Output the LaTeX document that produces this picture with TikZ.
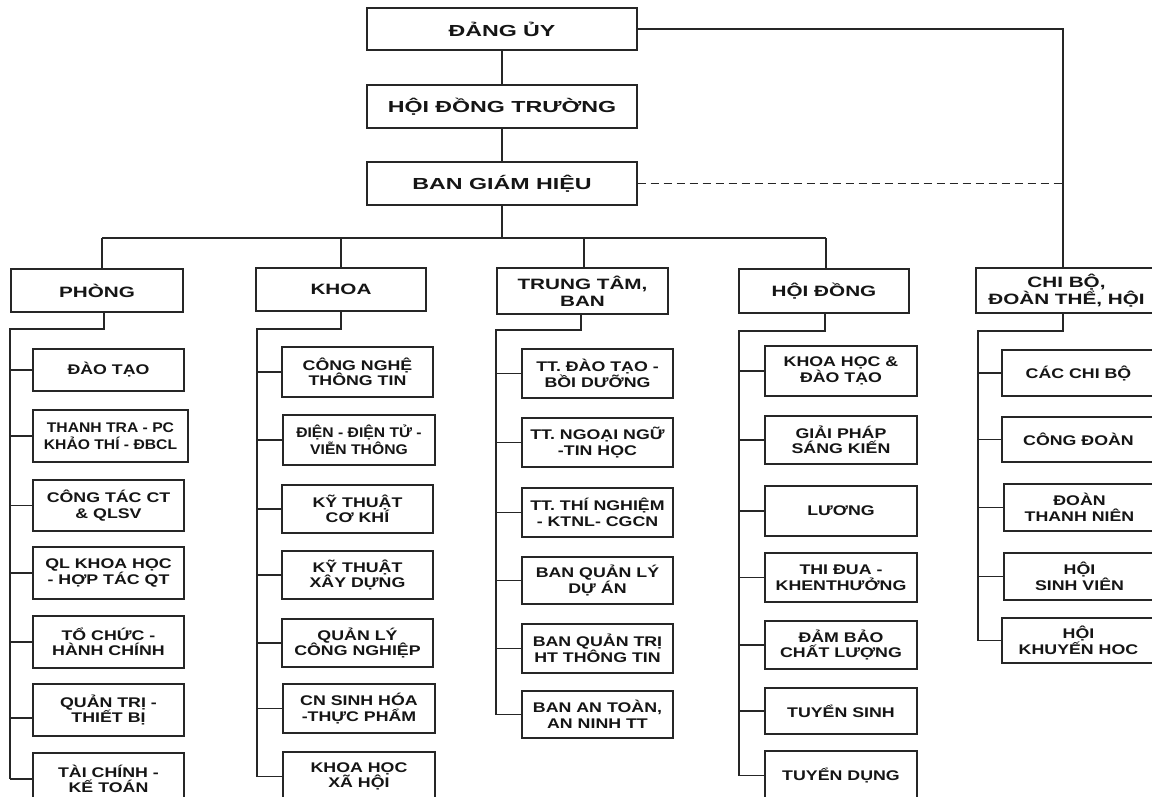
\documentclass[tikz,border=0pt]{standalone}
\usepackage{fontspec}
\setmainfont{Liberation Sans}
\newfontfamily\fTop{Liberation Sans}[FakeStretch=1.45]
\newfontfamily\fMid{Liberation Sans}[FakeStretch=1.38]
\newfontfamily\fSub{Liberation Sans}[FakeStretch=1.27]
\newfontfamily\fTight{Liberation Sans}[FakeStretch=1.12]
\definecolor{ln}{HTML}{262626}
\definecolor{tx}{HTML}{151515}
\newcommand\obox[7][]{\node[#1,minimum width={(#5-#3)*1pt},minimum height={(#6-#4)*1pt}] (#2) at ({(#3+#5)/2},{(#4+#6)/2}) {#7};}
\tikzset{
  base/.style={draw=ln,line width=1.2pt,inner sep=1pt,align=center,text=tx,fill=white},
  topbox/.style={base,font=\fTop\bfseries\fontsize{16}{18}\selectfont},
  midbox/.style={base,font=\fMid\bfseries\fontsize{15}{17.3}\selectfont},
  subbox/.style={base,font=\fSub\bfseries\fontsize{14}{15.5}\selectfont},
  tightbox/.style={base,font=\fTight\bfseries\fontsize{14}{17}\selectfont},
  conn/.style={draw=ln,line width=1.2pt},
}
\begin{document}
\begin{tikzpicture}[x=1pt,y=-1pt]
\useasboundingbox (0,0) rectangle (1152,796);
\fill[white] (0,0) rectangle (1152,796);
% top level
\obox[topbox]{dang}{367}{8}{637}{50}{ĐẢNG ỦY}
\obox[topbox]{hdt}{367}{85}{637}{128}{HỘI ĐỒNG TRƯỜNG}
\obox[topbox]{bgh}{367}{162}{637}{205}{BAN GIÁM HIỆU}
% level 2
\obox[midbox]{phong}{11}{269}{183}{312}{PHÒNG}
\obox[midbox]{khoa}{256}{268}{426}{311}{KHOA}
\obox[midbox]{ttb}{497}{268}{668}{314}{TRUNG TÂM,\\BAN}
\obox[midbox]{hd}{739}{269}{909}{313}{HỘI ĐỒNG}
\obox[midbox]{cb}{976}{268}{1157}{313}{CHI BỘ,\\ĐOÀN THỂ, HỘI}
% PHONG column
\obox[subbox]{p1}{33}{349}{184}{391}{ĐÀO TẠO}
\obox[tightbox]{p2}{33}{410}{188}{462}{THANH TRA - PC\\KHẢO THÍ - ĐBCL}
\obox[subbox]{p3}{33}{480}{184}{531}{CÔNG TÁC CT\\\& QLSV}
\obox[subbox]{p4}{33}{547}{184}{599}{QL KHOA HỌC\\- HỢP TÁC QT}
\obox[subbox]{p5}{33}{616}{184}{668}{TỔ CHỨC -\\HÀNH CHÍNH}
\obox[subbox]{p6}{33}{684}{184}{736}{QUẢN TRỊ -\\THIẾT BỊ}
\obox[subbox]{p7}{33}{753}{184}{805}{TÀI CHÍNH -\\KẾ TOÁN}
% KHOA column
\obox[subbox]{k1}{282}{347}{433}{397}{CÔNG NGHỆ\\THÔNG TIN}
\obox[tightbox]{k2}{283}{415}{435}{465}{ĐIỆN - ĐIỆN TỬ -\\VIỄN THÔNG}
\obox[subbox]{k3}{282}{485}{433}{533}{KỸ THUẬT\\CƠ KHÍ}
\obox[subbox]{k4}{282}{551}{433}{599}{KỸ THUẬT\\XÂY DỰNG}
\obox[subbox]{k5}{282}{619}{433}{667}{QUẢN LÝ\\CÔNG NGHIỆP}
\obox[subbox]{k6}{283}{684}{435}{733}{CN SINH HÓA\\-THỰC PHẨM}
\obox[subbox]{k7}{283}{752}{435}{801}{KHOA HỌC\\XÃ HỘI}
% TRUNG TAM column
\obox[subbox]{t1}{522}{349}{673}{398}{TT. ĐÀO TẠO -\\BỒI DƯỠNG}
\obox[subbox]{t2}{522}{418}{673}{467}{TT. NGOẠI NGỮ\\-TIN HỌC}
\obox[subbox]{t3}{522}{488}{673}{537}{TT. THÍ NGHIỆM\\- KTNL- CGCN}
\obox[subbox]{t4}{522}{557}{673}{604}{BAN QUẢN LÝ\\DỰ ÁN}
\obox[subbox]{t5}{522}{624}{673}{673}{BAN QUẢN TRỊ\\HT THÔNG TIN}
\obox[subbox]{t6}{522}{691}{673}{738}{BAN AN TOÀN,\\AN NINH TT}
% HOI DONG column
\obox[subbox]{h1}{765}{346}{917}{396}{KHOA HỌC \&\\ĐÀO TẠO}
\obox[subbox]{h2}{765}{416}{917}{464}{GIẢI PHÁP\\SÁNG KIẾN}
\obox[subbox]{h3}{765}{486}{917}{536}{LƯƠNG}
\obox[subbox]{h4}{765}{553}{917}{602}{THI ĐUA -\\KHENTHƯỞNG}
\obox[subbox]{h5}{765}{621}{917}{669}{ĐẢM BẢO\\CHẤT LƯỢNG}
\obox[subbox]{h6}{765}{688}{917}{734}{TUYỂN SINH}
\obox[subbox]{h7}{765}{751}{917}{800}{TUYỂN DỤNG}
% CHI BO column
\obox[subbox]{c1}{1002}{350}{1155}{396}{CÁC CHI BỘ}
\obox[subbox]{c2}{1002}{417}{1155}{462}{CÔNG ĐOÀN}
\obox[subbox]{c3}{1004}{484}{1155}{531}{ĐOÀN\\THANH NIÊN}
\obox[subbox]{c4}{1004}{553}{1155}{600}{HỘI\\SINH VIÊN}
\obox[subbox]{c5}{1002}{618}{1155}{663}{HỘI\\KHUYẾN HOC}
% coordinates
\coordinate (bus) at (502,238);
\coordinate (busL) at (102,238);
\coordinate (busR) at (826,238);
\coordinate (sK) at (341,238);
\coordinate (sT) at (584,238);
\coordinate (rc) at (1063,29);
\coordinate (pv) at (10,329);
\coordinate (kv) at (257,329);
\coordinate (tv) at (496,330);
\coordinate (hv) at (739,331);
\coordinate (cv) at (978,331);
% top connectors
\draw[conn] (dang.south) -- (hdt.north);
\draw[conn] (hdt.south) -- (bgh.north);
\draw[conn] (bgh.south) -- (bus);
\draw[conn] (busL) -- (busR);
\draw[conn] (busL) -- (busL |- phong.north);
\draw[conn] (sK) -- (sK |- khoa.north);
\draw[conn] (sT) -- (sT |- ttb.north);
\draw[conn] (busR) -- (busR |- hd.north);
\draw[conn] (dang.east) -- (rc) -- (rc |- cb.north);
\draw[conn,dash pattern=on 8pt off 5pt] (bgh.east) -- (bgh.east -| rc);
% PHONG branches
\draw[conn] ([xshift=7pt]phong.south) |- (pv) -- (pv |- p7.west);
\foreach \n in {p1,p2,p3,p4,p5,p7} \draw[conn] (\n.west) -- (\n.west -| pv);
\draw[conn] ([yshift=-8pt]p6.west) -- ([yshift=-8pt]p6.west -| pv);
% KHOA branches
\draw[conn] (khoa.south) |- (kv) -- (kv |- k7.west);
\foreach \n in {k1,k2,k3,k4,k5,k6,k7} \draw[conn] (\n.west) -- (\n.west -| kv);
% TRUNG TAM branches
\draw[conn] ([xshift=-1.5pt]ttb.south) |- (tv) -- (tv |- t6.west);
\foreach \n in {t1,t2,t3,t4,t5,t6} \draw[conn] (\n.west) -- (\n.west -| tv);
% HOI DONG branches
\draw[conn] ([xshift=1pt]hd.south) |- (hv) -- (hv |- h7.west);
\foreach \n in {h1,h2,h3,h4,h5,h6,h7} \draw[conn] (\n.west) -- (\n.west -| hv);
% CHI BO branches
\draw[conn] ([xshift=-3.5pt]cb.south) |- (cv) -- (cv |- c5.west);
\foreach \n in {c1,c2,c3,c4,c5} \draw[conn] (\n.west) -- (\n.west -| cv);
\end{tikzpicture}
\end{document}
